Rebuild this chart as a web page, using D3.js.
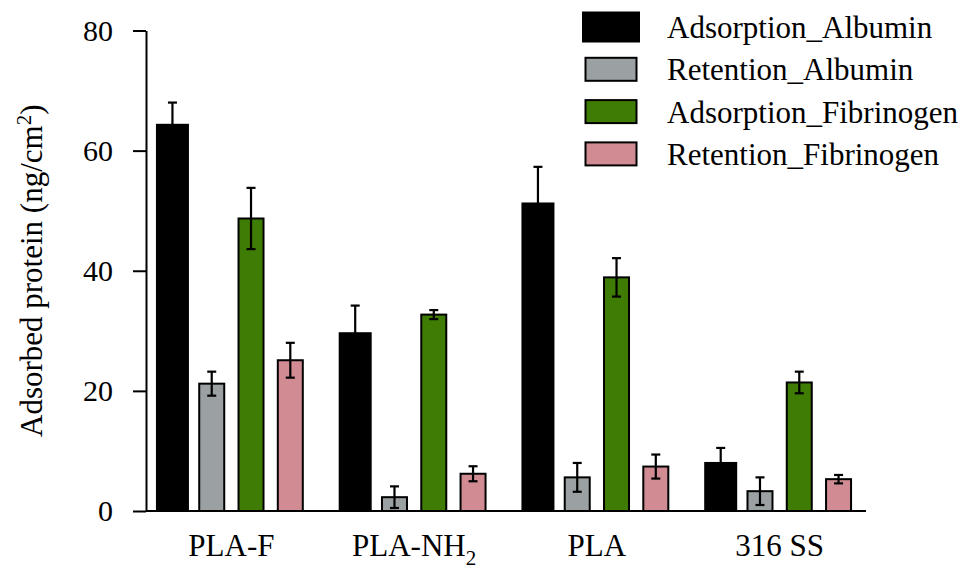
<!DOCTYPE html>
<html>
<head>
<meta charset="utf-8">
<script src="https://cdn.jsdelivr.net/npm/d3@7"></script>
<style>
    body { margin: 0; background: #fff; }
    svg text { font-family: "Liberation Serif", "Times New Roman", Times, "DejaVu Serif", serif !important; fill: #000; }
</style>
</head>
<body>
<div id="chart"></div>
<script>
// surfaces on the x axis ("_2" is drawn as a subscript)
let categories = ["PLA-F", "PLA-NH_2", "PLA", "316 SS"];
let seriesNames = ["Adsorption_Albumin", "Retention_Albumin", "Adsorption_Fibrinogen", "Retention_Fibrinogen"];

// means and error (ng/cm2)
let adsorptionAlbumin = [64.3, 29.6, 51.2, 8.0];
let retentionAlbumin = [21.2, 2.3, 5.6, 3.3];
let adsorptionFibrinogen = [48.7, 32.7, 38.9, 21.4];
let retentionFibrinogen = [25.1, 6.2, 7.4, 5.3];

let errAdsorptionAlbumin = [3.7, 4.6, 6.1, 2.5];
let errRetentionAlbumin = [2.0, 1.8, 2.4, 2.3];
let errAdsorptionFibrinogen = [5.1, 0.75, 3.2, 1.8];
let errRetentionFibrinogen = [2.9, 1.25, 2.0, 0.7];

let yTicks = [0, 20, 40, 60, 80];

let colors = ["#000000", "#9ba1a3", "#3f7c03", "#d08b93"];
let barWidths = [31, 25, 25, 25];

let width = 968, height = 569;
let serif = '"Liberation Serif", "Times New Roman", Times, "DejaVu Serif", serif';
let means = [adsorptionAlbumin, retentionAlbumin, adsorptionFibrinogen, retentionFibrinogen];
let errs = [errAdsorptionAlbumin, errRetentionAlbumin, errAdsorptionFibrinogen, errRetentionFibrinogen];

let rows = [];
categories.forEach((c, i) => {
    seriesNames.forEach((s, j) => {
        rows.push({cat: c, series: s, k: j, value: means[j][i], err: errs[j][i]});
    });
});

var svg = d3.select("#chart").append("svg")
    .attr("width", width)
    .attr("height", height)
    .style("font-family", serif);

var x0 = d3.scaleBand().domain(categories).range([140, 871]);
var x1 = d3.scaleBand().domain(seriesNames).range([0, x0.bandwidth()]).paddingOuter(0.326);
var y = d3.scaleLinear().domain([0, 80]).range([511, 30.5]);

// y axis
var yAxis = svg.append("g")
    .attr("transform", "translate(146,0)")
    .call(d3.axisLeft(y).tickValues(yTicks).tickSize(13).tickPadding(20).tickSizeOuter(0));
yAxis.attr("font-family", null).attr("font-size", null);
yAxis.select(".domain").attr("stroke-width", 2);
yAxis.selectAll(".tick line").attr("stroke-width", 2);
yAxis.selectAll(".tick text")
    .style("font-family", serif)
    .style("font-size", "30px");

// bars
var bars = svg.append("g");
bars.selectAll("rect")
    .data(rows)
    .join("rect")
    .attr("x", d => x0(d.cat) + x1(d.series) + x1.bandwidth() / 2 - barWidths[d.k] / 2)
    .attr("width", d => barWidths[d.k])
    .attr("y", d => y(d.value))
    .attr("height", d => y(0) - y(d.value))
    .attr("fill", d => colors[d.k])
    .attr("stroke", "#000")
    .attr("stroke-width", 2);

// error bars
var errG = svg.append("g").attr("stroke", "#000").attr("stroke-width", 2.2);
var cx = d => x0(d.cat) + x1(d.series) + x1.bandwidth() / 2;
errG.selectAll("line.v")
    .data(rows)
    .join("line")
    .attr("class", "v")
    .attr("x1", cx).attr("x2", cx)
    .attr("y1", d => y(d.value - d.err))
    .attr("y2", d => y(d.value + d.err));
errG.selectAll("line.top")
    .data(rows)
    .join("line")
    .attr("class", "top")
    .attr("x1", d => cx(d) - 4.5).attr("x2", d => cx(d) + 4.5)
    .attr("y1", d => y(d.value + d.err))
    .attr("y2", d => y(d.value + d.err));
errG.selectAll("line.bot")
    .data(rows)
    .join("line")
    .attr("class", "bot")
    .attr("x1", d => cx(d) - 4.5).attr("x2", d => cx(d) + 4.5)
    .attr("y1", d => y(d.value - d.err))
    .attr("y2", d => y(d.value - d.err));

// x axis: baseline line plus labels
svg.append("line")
    .attr("x1", 146).attr("x2", 866)
    .attr("y1", y(0)).attr("y2", y(0))
    .attr("stroke", "#000")
    .attr("stroke-width", 2);

var xAxis = svg.append("g")
    .attr("transform", `translate(0,${y(0)})`)
    .call(d3.axisBottom(x0).tickSize(0).tickPadding(0));
xAxis.attr("font-family", null).attr("font-size", null);
xAxis.select(".domain").remove();
xAxis.selectAll(".tick text")
    .style("font-family", serif)
    .style("font-size", "31px")
    .attr("dy", null)
    .attr("y", 45)
    .each(function (d) {
        var parts = d.split("_");
        var t = d3.select(this).text(parts[0]);
        if (parts[1]) {
            t.append("tspan").attr("dy", 9).style("font-size", "21px").text(parts[1]);
        }
    });

// y title
var title = svg.append("text")
    .attr("transform", `translate(42,${(y(0) + y(80)) / 2}) rotate(-90)`)
    .attr("text-anchor", "middle")
    .style("font-size", "31px");
title.append("tspan").text("Adsorbed protein (ng/cm");
title.append("tspan").attr("dy", -11).style("font-size", "21px").text("2");
title.append("tspan").attr("dy", 11).text(")");

// legend
var legend = svg.append("g").attr("transform", "translate(611,0)");
var item = legend.selectAll("g")
    .data(seriesNames)
    .join("g")
    .attr("transform", (d, i) => `translate(0,${27 + i * 42.3})`);
item.append("rect")
    .attr("x", (d, i) => i == 0 ? -28 : -25.5)
    .attr("y", (d, i) => i == 0 ? -14.5 : -11.5)
    .attr("width", (d, i) => i == 0 ? 56 : 51)
    .attr("height", (d, i) => i == 0 ? 29 : 23)
    .attr("fill", (d, i) => colors[i])
    .attr("stroke", "#000")
    .attr("stroke-width", 2);
item.append("text")
    .attr("x", 56)
    .attr("y", 11)
    .style("font-size", "31px")
    .text(d => d);
</script>
</body>
</html>
